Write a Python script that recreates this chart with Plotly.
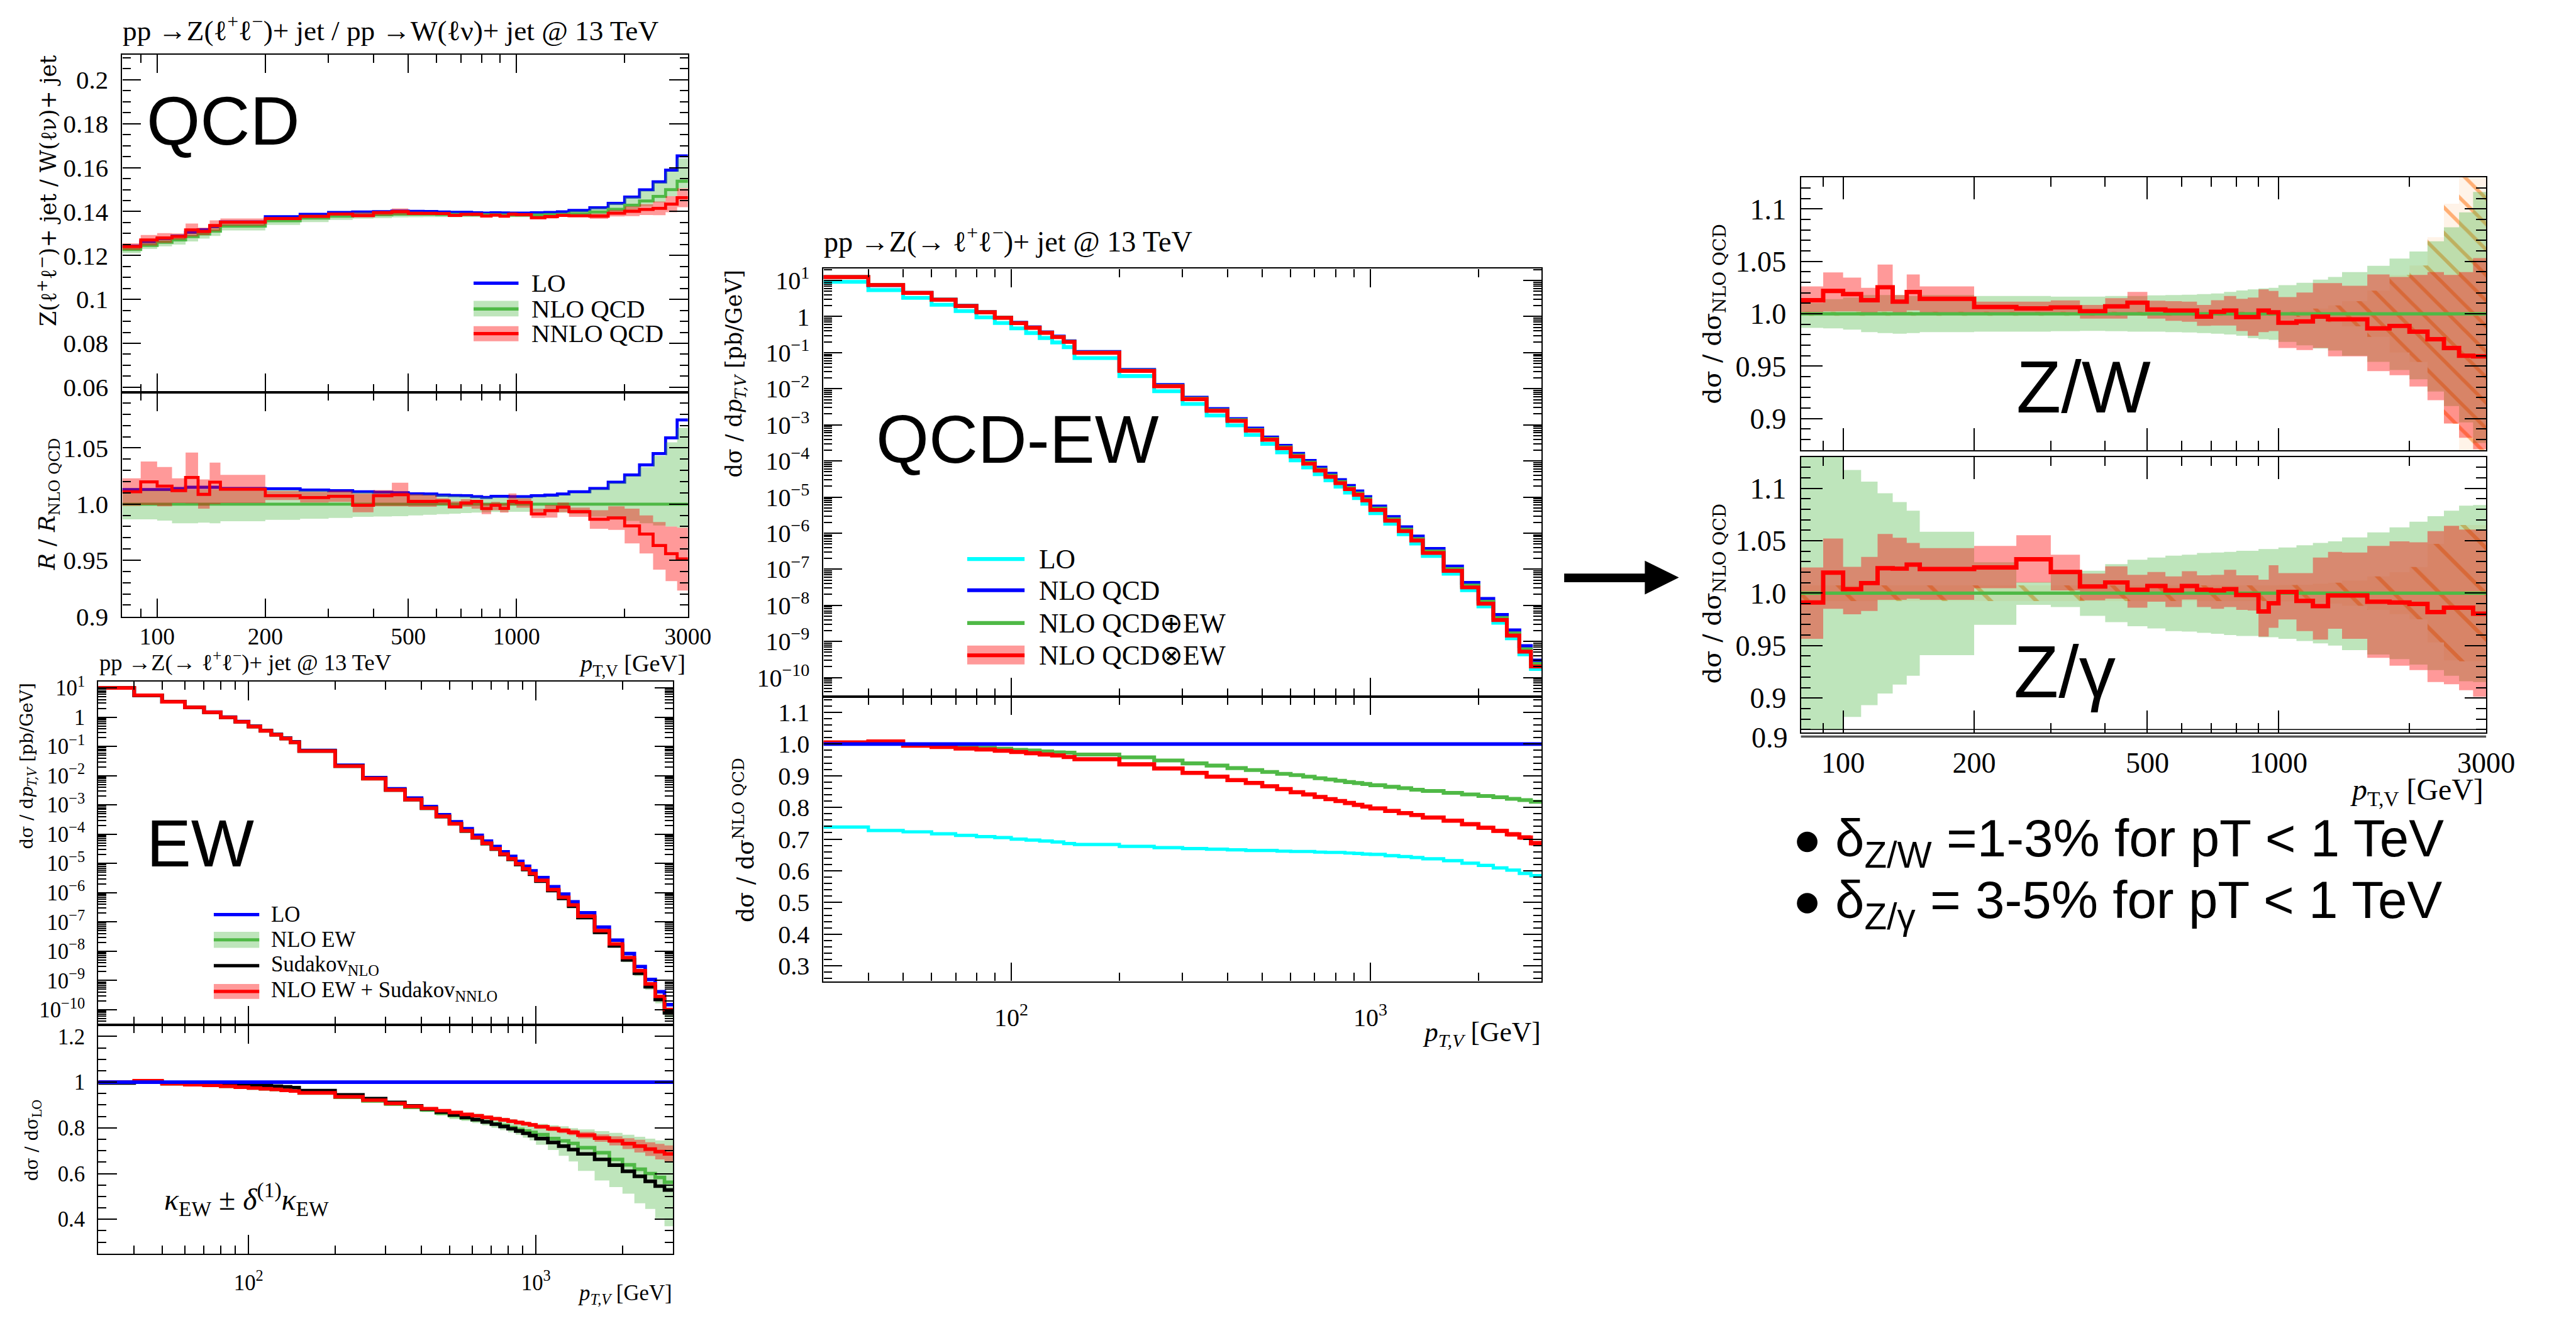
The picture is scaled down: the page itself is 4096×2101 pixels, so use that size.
import math
import plotly.graph_objects as go

# ------------------------------------------------------------------ canvas
REF_W, REF_H = 4706, 2414
OUT_W, OUT_H = 4096, 2101
K = OUT_W / REF_W


def fx(x):
    return x / REF_W


def fy(y):
    return 1 - y / REF_H


def s(v):
    return v * K


SERIF = "Liberation Serif"
WIDE = "DejaVu Serif"
SANS = "Liberation Sans"

BLUE, RED, GREEN, CYAN, BLACK = "#0000ff", "#ff0000", "#4fb946", "#00ffff", "#000000"
GREEN_BAND = "rgba(70,180,60,0.35)"
RED_BAND = "rgba(255,0,0,0.40)"
HATCH_BG = "rgba(255,200,150,0.22)"
HATCH_FG = "rgba(255,105,0,1.0)"

# ------------------------------------------------------------------ binning
EDGES_ZW = [80, 90, 100, 110, 120, 130, 140, 150, 200, 250, 300, 350, 400, 450, 500,
            550, 600, 650, 700, 750, 800, 850, 900, 950, 1000, 1100, 1200, 1300, 1400,
            1600, 1800, 2000, 2200, 2400, 2600, 2800, 3000]
EDGES_Z = [30, 40, 50, 60, 70, 80, 90, 100, 110, 120, 130, 140, 150, 200, 250, 300, 350,
           400, 450, 500, 550, 600, 650, 700, 750, 800, 850, 900, 950, 1000, 1100, 1200,
           1300, 1400, 1600, 1800, 2000, 2200, 2400, 2600, 2800, 3000]

# ------------------------------------------------------------------ QCD: Z+jet / W+jet ratio
qcd_nlo = [0.1227, 0.1246, 0.1260, 0.1271, 0.1286, 0.1298, 0.1311, 0.1334, 0.1358, 0.1370,
           0.1379, 0.1383, 0.1385, 0.1388, 0.1388, 0.1388, 0.1387, 0.1386, 0.1386, 0.1385,
           0.1385, 0.1385, 0.1384, 0.1384, 0.1384, 0.1384, 0.1385, 0.1386, 0.1390, 0.1398,
           0.1410, 0.1429, 0.1448, 0.1469, 0.1500, 0.1538]
qcd_lo_r = [1.013, 1.013, 1.013, 1.014, 1.015, 1.015, 1.015, 1.014, 1.0137, 1.0126, 1.012,
            1.011, 1.0106, 1.0102, 1.0092, 1.009, 1.008, 1.0077, 1.0075, 1.0067, 1.006, 1.007,
            1.007, 1.0067, 1.0067, 1.0075, 1.008, 1.009, 1.011, 1.014, 1.0195, 1.026, 1.035,
            1.045, 1.059, 1.075]
qcd_nnlo_r = [1.011, 1.0198, 1.016, 1.012, 1.0237, 1.0087, 1.0195, 1.0133, 1.0075, 1.0058,
              1.007, 0.999, 1.0075, 1.0084, 1.0024, 1.0024, 1.0027, 0.9976, 1.001, 1.0024,
              0.996, 0.999, 0.9962, 1.0024, 1.0015, 0.9913, 0.9942, 0.9973, 0.9933, 0.9865,
              0.9877, 0.9806, 0.9734, 0.9631, 0.9558, 0.9512]
qcd_nnlo_hi = [1.023, 1.038, 1.033, 1.023, 1.046, 1.022, 1.037, 1.026, 1.0116, 1.011, 1.012,
               1.0092, 1.0125, 1.019, 1.0087, 1.008, 1.005, 1.0024, 1.0044, 1.0024, 1.0007,
               1.002, 1.0007, 1.0096, 1.005, 0.996, 0.9993, 1.0014, 0.997, 0.9945, 0.998,
               0.996, 0.99, 0.984, 0.980, 0.979]
qcd_nnlo_lo = [0.9985, 0.9993, 0.998, 1.001, 1.0007, 0.996, 1.000, 1.001, 1.0036, 1.0014,
               1.002, 0.9928, 0.998, 0.998, 0.9976, 0.9976, 0.9993, 0.9962, 0.9976, 0.996,
               0.991, 0.9945, 0.9925, 0.999, 0.9968, 0.9877, 0.988, 0.9928, 0.9887, 0.978,
               0.977, 0.965, 0.956, 0.9417, 0.9314, 0.923]
qcd_nlo_hi = [1.012, 1.012, 1.012, 1.0125, 1.013, 1.013, 1.013, 1.013, 1.0125, 1.012, 1.011,
              1.0105, 1.01, 1.0095, 1.009, 1.0085, 1.008, 1.0075, 1.007, 1.0065, 1.006, 1.006,
              1.006, 1.006, 1.006, 1.0065, 1.007, 1.008, 1.01, 1.0135, 1.019, 1.025, 1.033,
              1.043, 1.055, 1.068]
qcd_nlo_lo = [0.9865, 0.9865, 0.9853, 0.983, 0.983, 0.9835, 0.983, 0.9848, 0.986, 0.987,
              0.9877, 0.9887, 0.989, 0.9893, 0.990, 0.9905, 0.991, 0.9915, 0.992, 0.9925,
              0.9928, 0.993, 0.993, 0.9932, 0.9932, 0.993, 0.9927, 0.9925, 0.9912, 0.989,
              0.987, 0.985, 0.983, 0.981, 0.980, 0.979]

# ------------------------------------------------------------------ EW: Z+jet spectrum
ew_lo = [10.0, 5.6, 3.4, 2.19, 1.49, 1.0, 0.71, 0.49, 0.352, 0.258, 0.193, 0.144, 0.073,
         0.0227, 0.0086, 0.00358, 0.00171, 0.000883, 0.000465, 0.000264, 0.000153, 9.1e-5,
         5.8e-5, 3.8e-5, 2.5e-5, 1.74e-5, 1.18e-5, 8.0e-6, 5.6e-6, 3.3e-6, 1.6e-6, 8.9e-7,
         4.9e-7, 2.06e-7, 6.7e-8, 2.4e-8, 8.3e-9, 3.0e-9, 1.08e-9, 4.1e-10, 1.49e-10]
ew_nnlo_sud_r = [1.0, 1.006, 0.993, 0.989, 0.986, 0.982, 0.978, 0.974, 0.971, 0.968, 0.964,
                 0.961, 0.953, 0.936, 0.921, 0.907, 0.894, 0.884, 0.875, 0.867, 0.859, 0.853,
                 0.846, 0.84, 0.835, 0.829, 0.823, 0.818, 0.813, 0.805, 0.796, 0.788, 0.78,
                 0.768, 0.755, 0.743, 0.731, 0.72, 0.707, 0.696, 0.686]
ew_nnlo_sud_err = [0.004, 0.004, 0.004, 0.004, 0.004, 0.004, 0.004, 0.004, 0.004, 0.004,
                   0.004, 0.004, 0.004, 0.004, 0.004, 0.004, 0.004, 0.004, 0.004, 0.005,
                   0.005, 0.006, 0.006, 0.006, 0.007, 0.007, 0.008, 0.008, 0.008, 0.009,
                   0.01, 0.011, 0.012, 0.014, 0.016, 0.02, 0.024, 0.028, 0.03, 0.034, 0.037]
ew_sud_nlo_r = [0.996, 1.0, 0.994, 0.993, 0.991, 0.989, 0.988, 0.986, 0.984, 0.982, 0.979,
                0.976, 0.963, 0.944, 0.928, 0.911, 0.896, 0.882, 0.869, 0.857, 0.846, 0.836,
                0.826, 0.816, 0.806, 0.796, 0.786, 0.776, 0.766, 0.753, 0.736, 0.72, 0.705,
                0.686, 0.662, 0.637, 0.61, 0.588, 0.566, 0.545, 0.528]
ew_nlo_r = [0.998, 1.005, 0.993, 0.989, 0.986, 0.982, 0.978, 0.974, 0.971, 0.968, 0.964,
            0.961, 0.952, 0.934, 0.918, 0.904, 0.89, 0.879, 0.865, 0.853, 0.843, 0.835, 0.826,
            0.818, 0.81, 0.801, 0.793, 0.786, 0.78, 0.77, 0.753, 0.743, 0.732, 0.713, 0.691,
            0.662, 0.638, 0.619, 0.6, 0.583, 0.562]
ew_nlo_hi = [1.002, 1.009, 0.997, 0.993, 0.99, 0.986, 0.982, 0.978, 0.975, 0.972, 0.968,
             0.965, 0.957, 0.94, 0.925, 0.912, 0.898, 0.884, 0.876, 0.869, 0.865, 0.861,
             0.854, 0.849, 0.844, 0.838, 0.832, 0.826, 0.821, 0.817, 0.811, 0.807, 0.799,
             0.793, 0.786, 0.778, 0.77, 0.761, 0.753, 0.745, 0.753]
ew_nlo_lo = [0.994, 1.001, 0.989, 0.985, 0.982, 0.978, 0.974, 0.97, 0.967, 0.964, 0.96,
             0.957, 0.947, 0.928, 0.911, 0.896, 0.882, 0.869, 0.853, 0.838, 0.83, 0.821,
             0.811, 0.8, 0.79, 0.78, 0.77, 0.757, 0.745, 0.726, 0.703, 0.678, 0.653, 0.612,
             0.57, 0.541, 0.512, 0.47, 0.445, 0.404, 0.37]

# ------------------------------------------------------------------ QCD-EW: Z+jet spectrum
qe_nlo = [12.4, 7.45, 4.55, 2.95, 1.99, 1.34, 0.94, 0.674, 0.502, 0.366, 0.278, 0.207, 0.104,
          0.0332, 0.0127, 0.00565, 0.00273, 0.00145, 0.000789, 0.000446, 0.000262, 0.000157,
          1.0e-4, 6.5e-5, 4.4e-5, 2.95e-5, 2.03e-5, 1.43e-5, 1.0e-5, 5.5e-6, 2.8e-6, 1.45e-6,
          8.05e-7, 3.66e-7, 1.19e-7, 4.2e-8, 1.51e-8, 5.4e-9, 2.03e-9, 7.4e-10, 2.95e-10]
qe_lo_r = [0.738, 0.727, 0.723, 0.717, 0.712, 0.708, 0.705, 0.700, 0.697, 0.694, 0.691, 0.686,
           0.683, 0.677, 0.673, 0.670, 0.668, 0.666, 0.664, 0.664, 0.662, 0.661, 0.661, 0.659,
           0.658, 0.658, 0.656, 0.655, 0.653, 0.652, 0.648, 0.645, 0.642, 0.638, 0.632, 0.624,
           0.617, 0.609, 0.602, 0.592, 0.585]
qe_add_r = [1.003, 1.005, 0.997, 0.994, 0.991, 0.988, 0.985, 0.982, 0.98, 0.977, 0.974, 0.973,
            0.967, 0.958, 0.948, 0.939, 0.932, 0.924, 0.918, 0.912, 0.906, 0.902, 0.897, 0.892,
            0.888, 0.884, 0.88, 0.877, 0.874, 0.87, 0.865, 0.861, 0.856, 0.852, 0.846, 0.841,
            0.836, 0.832, 0.827, 0.823, 0.818]
qe_mul_r = [1.005, 1.008, 0.995, 0.991, 0.986, 0.983, 0.979, 0.975, 0.971, 0.967, 0.964, 0.959,
            0.952, 0.936, 0.923, 0.909, 0.897, 0.886, 0.877, 0.867, 0.858, 0.848, 0.841, 0.833,
            0.826, 0.82, 0.814, 0.808, 0.803, 0.797, 0.789, 0.782, 0.776, 0.768, 0.758, 0.747,
            0.736, 0.726, 0.715, 0.705, 0.687]
qe_mul_err = [0.003, 0.003, 0.003, 0.003, 0.003, 0.003, 0.003, 0.003, 0.003, 0.003, 0.003,
              0.003, 0.003, 0.003, 0.003, 0.003, 0.003, 0.003, 0.003, 0.003, 0.003, 0.003,
              0.003, 0.003, 0.003, 0.004, 0.004, 0.004, 0.004, 0.005, 0.005, 0.005, 0.005,
              0.006, 0.006, 0.006, 0.007, 0.007, 0.008, 0.008, 0.008]

# ------------------------------------------------------------------ Z/W and Z/gamma ratios
zw_r = [1.0129, 1.0218, 1.0188, 1.0129, 1.0253, 1.0116, 1.0208, 1.0143, 1.0065, 1.0051,
        1.0061, 1.0025, 1.0071, 1.0106, 1.0041, 1.0031, 1.0031, 0.9973, 1.0018, 1.0031,
        0.9969, 0.9969, 1.0031, 1.0014, 0.9914, 0.9927, 0.9973, 0.9947, 0.9947, 0.9861,
        0.9884, 0.9829, 0.9757, 0.9673, 0.96, 0.9594]
zw_hi = [1.0261, 1.0394, 1.0345, 1.0247, 1.0469, 1.0178, 1.0375, 1.0261, 1.0116, 1.0116,
         1.0127, 1.0084, 1.0149, 1.0208, 1.0124, 1.012, 1.0116, 1.0084, 1.0129, 1.0169,
         1.0143, 1.0155, 1.0233, 1.0218, 1.0159, 1.0202, 1.0292, 1.0292, 1.0267, 1.0375,
         1.0351, 1.0371, 1.0398, 1.0371, 1.0398, 1.0531]
zw_lo = [1.0012, 1.0022, 1.0022, 1.0012, 1.0022, 1.0012, 1.0031, 1.0012, 1.0012, 1.0012,
         1.0012, 0.9953, 0.9953, 0.9982, 0.9953, 0.9933, 0.9924, 0.9884, 0.9888, 0.9888,
         0.9835, 0.979, 0.9825, 0.9835, 0.9673, 0.9653, 0.9673, 0.9594, 0.9594, 0.9453,
         0.9414, 0.9306, 0.9175, 0.8953, 0.8816, 0.8708]
zw_nlo_hi = [1.0104, 1.0139, 1.0155, 1.0178, 1.0178, 1.0178, 1.0169, 1.0178, 1.0169, 1.0169,
             1.0163, 1.0163, 1.0169, 1.0169, 1.0175, 1.0178, 1.0182, 1.0188, 1.0194, 1.0208,
             1.0222, 1.0233, 1.0241, 1.0247, 1.0273, 1.0296, 1.0325, 1.0351, 1.0398, 1.0457,
             1.0527, 1.0594, 1.0692, 1.0825, 1.0967, 1.1163]
zw_nlo_lo = [0.9865, 0.9861, 0.9849, 0.9825, 0.9816, 0.981, 0.9816, 0.9825, 0.9829, 0.9829,
             0.9833, 0.9837, 0.9833, 0.9829, 0.9829, 0.9825, 0.9822, 0.9816, 0.981, 0.9802,
             0.979, 0.9767, 0.9757, 0.9751, 0.9731, 0.9698, 0.9669, 0.9649, 0.96, 0.9541,
             0.9463, 0.9375, 0.9257, 0.912, 0.8963, 0.8767]
zw_hatch = [0.002, 0.002, 0.002, 0.002, 0.002, 0.002, 0.002, 0.002, 0.002, 0.002, 0.002,
            0.002, 0.002, 0.002, 0.002, 0.002, 0.002, 0.002, 0.002, 0.002, 0.002, 0.002,
            0.002, 0.002, 0.002, 0.003, 0.005, 0.008, 0.012, 0.022, 0.037, 0.046, 0.073,
            0.105, 0.14, 0.16]

zg_r = [0.9911, 1.0196, 1.0038, 1.0096, 1.0238, 1.0234, 1.0272, 1.0230, 1.0245, 1.0323,
        1.0202, 1.0064, 1.0102, 1.0032, 1.0068, 1.0026, 1.0068, 1.0032, 1.0026, 1.0038,
        0.9983, 0.9983, 0.9826, 0.9904, 1.0011, 0.9926, 0.9877, 0.9979, 0.9979, 0.9919,
        0.9911, 0.9898, 0.9819, 0.9862, 0.9862, 0.9804]
zg_hi = [1.0245, 1.0521, 1.0251, 1.0345, 1.0564, 1.0528, 1.0479, 1.043, 1.0451, 1.0553,
         1.0366, 1.0187, 1.0255, 1.0174, 1.0202, 1.016, 1.0209, 1.017, 1.0174, 1.0223, 1.017,
         1.017, 1.0128, 1.0266, 1.0191, 1.0191, 1.034, 1.0394, 1.0387, 1.0451, 1.0494,
         1.0485, 1.0591, 1.0643, 1.0606, 1.0606]
zg_lo = [0.9564, 0.9851, 0.9798, 0.983, 0.9936, 0.9936, 0.9947, 0.9936, 1.0047, 1.0102,
         1.0026, 0.9932, 0.9947, 0.9862, 0.9919, 0.9868, 0.994, 0.9868, 0.9851, 0.9868, 0.984,
         0.9834, 0.9585, 0.967, 0.9749, 0.9638, 0.9557, 0.966, 0.9564, 0.9383, 0.9309, 0.9266,
         0.9153, 0.9132, 0.9074, 0.9011]
zg_nlo_hi = [1.15, 1.15, 1.1174, 1.1064, 1.0953, 1.0868, 1.0787, 1.0585, 1.0294, 1.0106,
             1.0213, 1.0213, 1.0277, 1.0319, 1.034, 1.0357, 1.0366, 1.0383, 1.0387, 1.0394,
             1.0404, 1.0404, 1.0421, 1.0421, 1.0436, 1.0457, 1.0479, 1.0494, 1.0532, 1.0579,
             1.0628, 1.0681, 1.0734, 1.0787, 1.0834, 1.084]
zg_nlo_lo = [0.87, 0.87, 0.8819, 0.8932, 0.9043, 0.9128, 0.9213, 0.9409, 0.9698, 0.9889,
             0.9868, 0.9783, 0.9723, 0.9685, 0.9664, 0.9638, 0.9634, 0.9621, 0.9613, 0.96,
             0.9591, 0.9591, 0.9579, 0.9579, 0.9564, 0.9543, 0.9521, 0.95, 0.9457, 0.9415,
             0.9372, 0.9319, 0.9266, 0.9213, 0.916, 0.9153]
zg_hatch = [0.0075, 0.0075, 0.0075, 0.0075, 0.0075, 0.0075, 0.0075, 0.0075, 0.0075, 0.0075,
            0.0075, 0.0075, 0.0075, 0.0075, 0.0075, 0.0075, 0.0075, 0.0075, 0.0075, 0.0075,
            0.0075, 0.0075, 0.0075, 0.0075, 0.0078, 0.008, 0.009, 0.01, 0.012, 0.016, 0.02,
            0.025, 0.047, 0.064, 0.065, 0.065]

# ------------------------------------------------------------------ text
TITLE_ZW = "pp →Z(ℓ<sup>+</sup>ℓ<sup>−</sup>)+ jet / pp →W(ℓν)+ jet @ 13 TeV"
TITLE_Z = "pp →Z(→ ℓ<sup>+</sup>ℓ<sup>−</sup>)+ jet @ 13 TeV"
YT_RATIO = "Z(ℓ<sup>+</sup>ℓ<sup>−</sup>)+ jet / W(ℓν)+ jet"
YT_RR = "<i>R</i> / <i>R</i><sub>NLO QCD</sub>"
YT_SPEC = "dσ / d<i>p</i><sub><i>T,V</i></sub> [pb/GeV]"
YT_EWR = "dσ / dσ<sub>LO</sub>"
YT_QER = "dσ / dσ<sup>NLO QCD</sup>"
YT_ZR = "dσ / dσ<sub>NLO QCD</sub>"
XT_UP = "<i>p</i><sub>T,V</sub> [GeV]"
XT_IT = "<i>p</i><sub><i>T,V</i></sub> [GeV]"
LEG_QCD = ["LO", "NLO QCD", "NNLO QCD"]
LEG_EW = ["LO", "NLO EW", "Sudakov<sub>NLO</sub>", "NLO EW + Sudakov<sub>NNLO</sub>"]
LEG_QE = ["LO", "NLO QCD", "NLO QCD⊕EW", "NLO QCD⊗EW"]

X_ZW_TICKS = [100, 200, 500, 1000, 3000]
X_ZW_TEXT = ["100", "200", "500", "1000", "3000"]
X_ZW_MINOR = [90, 300, 400, 600, 700, 800, 900, 2000]
X_Z_TICKS = [100, 1000]
X_Z_TEXT = ["10<sup>2</sup>", "10<sup>3</sup>"]
X_Z_MINOR = [40, 50, 60, 70, 80, 90, 200, 300, 400, 500, 600, 700, 800, 900, 2000]

# ------------------------------------------------------------------ helpers
fig = go.Figure()
layout = {}


def ids(n):
    return ("x" if n == 1 else f"x{n}"), ("y" if n == 1 else f"y{n}")


def lin_minor(lo, hi, step, majors):
    out = []
    for i in range(math.ceil(lo / step - 1e-9), math.floor(hi / step + 1e-9) + 1):
        v = round(i * step, 6)
        if all(abs(v - m) > 1e-9 for m in majors):
            out.append(v)
    return out


def add_axes(n, xd, yd, xr, yr, ylog, xt, xl, xm, yt, yl, ym, xlabels, fsize,
             xmaj=34, xmin=15, ymaj=34, ymin=15, xstand=22, ystand=14, xfsize=None):
    xa, ya = ids(n)
    common = dict(showline=True, linecolor="black", linewidth=s(2.6), mirror="allticks",
                  ticks="inside", tickwidth=s(2.4), tickcolor="black", tickmode="array",
                  showgrid=False, zeroline=False, fixedrange=True)
    mc = dict(tickmode="array", ticks="inside", tickwidth=s(2.0), tickcolor="black",
              showgrid=False)
    layout["xaxis" if n == 1 else f"xaxis{n}"] = dict(
        common, type="log", domain=[fx(xd[0]), fx(xd[1])],
        range=[math.log10(xr[0]), math.log10(xr[1])], anchor=ya, ticklen=s(xmaj),
        tickvals=xt, ticktext=xl, showticklabels=xlabels,
        tickfont=dict(family=SERIF, size=s(xfsize or fsize), color="black"),
        ticklabelstandoff=int(round(s(xstand))),
        minor=dict(mc, tickvals=xm, ticklen=s(xmin)))
    layout["yaxis" if n == 1 else f"yaxis{n}"] = dict(
        common, type="log" if ylog else "linear", domain=[fy(yd[1]), fy(yd[0])],
        range=yr, anchor=xa, ticklen=s(ymaj), tickvals=yt, ticktext=yl,
        tickfont=dict(family=SERIF, size=s(fsize), color="black"),
        ticklabelstandoff=int(round(s(ystand))),
        minor=dict(mc, tickvals=ym, ticklen=s(ymin)))


def step(n, edges, vals, color, width):
    xa, ya = ids(n)
    fig.add_trace(go.Scatter(x=edges, y=list(vals) + [vals[-1]], mode="lines",
                             line=dict(shape="hv", color=color, width=s(width)),
                             xaxis=xa, yaxis=ya, hoverinfo="skip", showlegend=False))


def band(n, edges, lo, hi, color, pattern=None):
    xa, ya = ids(n)
    clear = dict(shape="hv", width=0, color="rgba(0,0,0,0)")
    fig.add_trace(go.Scatter(x=edges, y=list(hi) + [hi[-1]], mode="lines", line=clear,
                             xaxis=xa, yaxis=ya, hoverinfo="skip", showlegend=False))
    extra = {"fillpattern": pattern} if pattern else {}
    fig.add_trace(go.Scatter(x=edges, y=list(lo) + [lo[-1]], mode="lines", line=clear,
                             fill="tonexty", fillcolor=color, xaxis=xa, yaxis=ya,
                             hoverinfo="skip", showlegend=False, **extra))


def text(x, y, t, size, family=SERIF, xanchor="left", yanchor="middle", angle=0):
    fig.add_annotation(x=fx(x), y=fy(y), xref="paper", yref="paper", text=t,
                       showarrow=False, textangle=angle, xanchor=xanchor, yanchor=yanchor,
                       font=dict(family=family, size=s(size), color="black"), borderpad=0)


def leg_line(x0, x1, y, color, width=6):
    fig.add_shape(type="line", xref="paper", yref="paper", x0=fx(x0), x1=fx(x1),
                  y0=fy(y), y1=fy(y), line=dict(color=color, width=s(width)))


def leg_box(x0, x1, y0, y1, color):
    fig.add_shape(type="rect", xref="paper", yref="paper", x0=fx(x0), x1=fx(x1),
                  y0=fy(y1), y1=fy(y0), fillcolor=color, line=dict(width=0))


def times(a, b):
    return [u * v for u, v in zip(a, b)]


def shift(a, d, sign):
    return [u + sign * v for u, v in zip(a, d)]


ones_zw = [1.0] * len(qcd_nlo)
ones_z = [1.0] * len(qe_nlo)

LOG_Y = [10.0 ** k for k in range(-10, 2)]
LOG_Y_TEXT = ["1" if k == 0 else f"10<sup>{'−' if k < 0 else ''}{abs(k)}</sup>"
              for k in range(-10, 2)]
LOG_Y_MINOR = [m * 10.0 ** k for k in range(-11, 2) for m in range(2, 10)]

# ------------------------------------------------------------------ axes
# panel 1: Z/W ratio at QCD accuracy
add_axes(1, (226, 1271), (85, 713), (80, 3000), [0.0577, 0.2115], False,
         X_ZW_TICKS, X_ZW_TEXT, X_ZW_MINOR,
         [0.06, 0.08, 0.1, 0.12, 0.14, 0.16, 0.18, 0.2],
         ["0.06", "0.08", "0.1", "0.12", "0.14", "0.16", "0.18", "0.2"],
         lin_minor(0.0577, 0.2115, 0.005, [0.06, 0.08, 0.1, 0.12, 0.14, 0.16, 0.18, 0.2]),
         False, 47)
add_axes(2, (226, 1271), (713, 1130.7), (80, 3000), [0.8995, 1.0996], False,
         X_ZW_TICKS, X_ZW_TEXT, X_ZW_MINOR,
         [0.9, 0.95, 1.0, 1.05], ["0.9", "0.95", "1.0", "1.05"],
         lin_minor(0.9, 1.0996, 0.01, [0.9, 0.95, 1.0, 1.05]), True, 47,
         xstand=-3, xfsize=43)
# panel 2: EW corrections
add_axes(3, (181.6, 1243.6), (1251.2, 1889.3), (30, 3000), [-10.52, 1.211], True,
         X_Z_TICKS, X_Z_TEXT, X_Z_MINOR, LOG_Y, LOG_Y_TEXT, LOG_Y_MINOR, False, 40)
add_axes(4, (181.6, 1243.6), (1889.3, 2314.8), (30, 3000), [0.249, 1.25], False,
         X_Z_TICKS, X_Z_TEXT, X_Z_MINOR,
         [0.4, 0.6, 0.8, 1.0, 1.2], ["0.4", "0.6", "0.8", "1", "1.2"],
         lin_minor(0.25, 1.25, 0.05, [0.4, 0.6, 0.8, 1.0, 1.2]), True, 40, xstand=16)
# panel 3: QCD-EW combination
add_axes(5, (1521.5, 2848.4), (483.3, 1278.6), (30, 3000), [-10.526, 1.325], True,
         X_Z_TICKS, X_Z_TEXT, X_Z_MINOR, LOG_Y, LOG_Y_TEXT, LOG_Y_MINOR, False, 46)
QE_MAJ = [0.3, 0.4, 0.5, 0.6, 0.7, 0.8, 0.9, 1.0, 1.1]
add_axes(6, (1521.5, 2848.4), (1278.6, 1808), (30, 3000), [0.2516, 1.15], False,
         X_Z_TICKS, X_Z_TEXT, X_Z_MINOR,
         QE_MAJ, ["0.3", "0.4", "0.5", "0.6", "0.7", "0.8", "0.9", "1.0", "1.1"],
         lin_minor(0.26, 1.15, 0.02, QE_MAJ), True, 46, xstand=24)
# panel 4: Z/W and Z/gamma ratios
Z_MAJ = [0.9, 0.95, 1.0, 1.05, 1.1]
Z_TXT = ["0.9", "0.95", "1.0", "1.05", "1.1"]
add_axes(7, (3327.4, 4593.4), (313.7, 820.3), (80, 3000), [0.87, 1.13], False,
         X_ZW_TICKS, X_ZW_TEXT, X_ZW_MINOR, Z_MAJ, Z_TXT,
         lin_minor(0.87, 1.13, 0.01, Z_MAJ), False, 53,
         xmaj=40, xmin=17, ymaj=39, ymin=18)
add_axes(8, (3327.4, 4593.4), (833, 1345.4), (80, 3000), [0.8672, 1.13], False,
         X_ZW_TICKS, X_ZW_TEXT, X_ZW_MINOR, Z_MAJ, Z_TXT,
         lin_minor(0.87, 1.13, 0.01, Z_MAJ), True, 53,
         xmaj=40, xmin=17, ymaj=39, ymin=18, xstand=8)

# ------------------------------------------------------------------ panel 1 curves
E = EDGES_ZW
step(1, E, times(qcd_nlo, qcd_lo_r), BLUE, 5.5)
band(1, E, times(qcd_nlo, qcd_nlo_lo), times(qcd_nlo, qcd_nlo_hi), GREEN_BAND)
step(1, E, qcd_nlo, GREEN, 5.5)
band(1, E, times(qcd_nlo, qcd_nnlo_lo), times(qcd_nlo, qcd_nnlo_hi), RED_BAND)
step(1, E, times(qcd_nlo, qcd_nnlo_r), RED, 5.5)

step(2, E, qcd_lo_r, BLUE, 5.5)
band(2, E, qcd_nlo_lo, qcd_nlo_hi, GREEN_BAND)
step(2, E, ones_zw, GREEN, 5.5)
band(2, E, qcd_nnlo_lo, qcd_nnlo_hi, RED_BAND)
step(2, E, qcd_nnlo_r, RED, 5.5)

# ------------------------------------------------------------------ panel 2 curves
E = EDGES_Z
ew_red_lo = shift(ew_nnlo_sud_r, ew_nnlo_sud_err, -1)
ew_red_hi = shift(ew_nnlo_sud_r, ew_nnlo_sud_err, +1)
step(3, E, ew_lo, BLUE, 6.5)
band(3, E, times(ew_lo, ew_nlo_lo), times(ew_lo, ew_nlo_hi), GREEN_BAND)
step(3, E, times(ew_lo, ew_nlo_r), GREEN, 6.5)
step(3, E, times(ew_lo, ew_sud_nlo_r), BLACK, 6.5)
band(3, E, times(ew_lo, ew_red_lo), times(ew_lo, ew_red_hi), RED_BAND)
step(3, E, times(ew_lo, ew_nnlo_sud_r), RED, 6.5)

band(4, E, ew_nlo_lo, ew_nlo_hi, GREEN_BAND)
band(4, E, ew_red_lo, ew_red_hi, RED_BAND)
step(4, E, ew_nlo_r, GREEN, 6.5)
step(4, E, ew_sud_nlo_r, BLACK, 6.5)
step(4, E, ew_nnlo_sud_r, RED, 6.5)
step(4, E, ones_z, BLUE, 6.5)

# ------------------------------------------------------------------ panel 3 curves
qe_red_lo = shift(qe_mul_r, qe_mul_err, -1)
qe_red_hi = shift(qe_mul_r, qe_mul_err, +1)
step(5, E, times(qe_nlo, qe_lo_r), CYAN, 7)
step(5, E, qe_nlo, BLUE, 7)
step(5, E, times(qe_nlo, qe_add_r), GREEN, 7)
band(5, E, times(qe_nlo, qe_red_lo), times(qe_nlo, qe_red_hi), RED_BAND)
step(5, E, times(qe_nlo, qe_mul_r), RED, 7)

step(6, E, qe_lo_r, CYAN, 6)
step(6, E, qe_add_r, GREEN, 7)
band(6, E, qe_red_lo, qe_red_hi, RED_BAND)
step(6, E, qe_mul_r, RED, 7.5)
step(6, E, ones_z, BLUE, 6.5)

# ------------------------------------------------------------------ panel 4 curves
E = EDGES_ZW
for n, central, lo, hi, nlo_lo, nlo_hi, hatch, hsize, hsol in (
        (7, zw_r, zw_lo, zw_hi, zw_nlo_lo, zw_nlo_hi, zw_hatch, 33, 0.2),
        (8, zg_r, zg_lo, zg_hi, zg_nlo_lo, zg_nlo_hi, zg_hatch, 59, 0.12)):
    band(n, E, shift(ones_zw, hatch, -1), shift(ones_zw, hatch, +1), HATCH_BG,
         pattern=dict(shape="\\", fgcolor=HATCH_FG, bgcolor=HATCH_BG, size=s(hsize),
                      solidity=hsol, fillmode="overlay"))
    band(n, E, nlo_lo, nlo_hi, GREEN_BAND)
    band(n, E, lo, hi, RED_BAND)
    step(n, E, ones_zw, GREEN, 6)
    step(n, E, central, RED, 8)

# lower edge of the Z/gamma frame and the cut-off frame beneath it
fig.add_shape(type="line", xref="x8 domain", yref="y8", x0=0, x1=1, y0=0.87, y1=0.87,
              line=dict(color="black", width=s(1.6)))
fig.add_shape(type="line", xref="paper", yref="paper", x0=fx(3327.4), x1=fx(4593.4),
              y0=fy(1353), y1=fy(1353), line=dict(color="#555555", width=s(4)))
text(3305, 1356, "0.9", 53, xanchor="right")

# ------------------------------------------------------------------ titles and axis labels
text(226, 37, TITLE_ZW, 52)
text(182, 1212, TITLE_Z, 42)
text(1521, 429, TITLE_Z, 53)

text(87, 85, YT_RATIO, 40, family=WIDE, xanchor="center", yanchor="top", angle=-90)
text(91, 921, YT_RR, 40, family=WIDE, xanchor="center", angle=-90)
text(52, 1253, YT_SPEC, 32, family=WIDE, xanchor="center", yanchor="top", angle=-90)
text(62, 2103, YT_EWR, 32, family=WIDE, xanchor="center", angle=-90)
text(1359, 485, YT_SPEC, 40, family=WIDE, xanchor="center", yanchor="top", angle=-90)
text(1374, 1545, YT_QER, 42, family=WIDE, xanchor="center", angle=-90)
text(3166, 567, YT_ZR, 46, family=WIDE, xanchor="center", angle=-90)
text(3166, 1087, YT_ZR, 46, family=WIDE, xanchor="center", angle=-90)

text(1268, 1220, XT_UP, 44, xanchor="right")
text(1243, 2390, XT_IT, 40, xanchor="right")
text(2848, 1906, XT_IT, 50, xanchor="right")
text(4590, 1455, XT_UP, 55, xanchor="right")

# ------------------------------------------------------------------ big panel labels
text(270, 208, "QCD", 126, family=SANS)
text(270, 1552, "EW", 122, family=SANS)
text(1618, 800, "QCD-EW", 124, family=SANS)
text(3724, 703, "Z/W", 134, family=SANS)
text(3719, 1233, "Z/γ", 134, family=SANS)
text(302, 2213, "<i>κ</i><sub>EW</sub> ± <i>δ</i><sup>(1)</sup><i>κ</i><sub>EW</sub>", 55)

# ------------------------------------------------------------------ legends
leg_line(875, 958, 510, BLUE)
leg_box(875, 958, 543, 572, GREEN_BAND)
leg_line(875, 958, 558, GREEN)
leg_box(875, 958, 590, 618, RED_BAND)
leg_line(875, 958, 604, RED)
for lab, y in zip(LEG_QCD, (510, 558, 604)):
    text(981, y, lab, 47)

leg_line(395, 479, 1684, BLUE)
leg_box(395, 479, 1716, 1746, GREEN_BAND)
leg_line(395, 479, 1731, GREEN)
leg_line(395, 479, 1779, BLACK)
leg_box(395, 479, 1813, 1841, RED_BAND)
leg_line(395, 479, 1827, RED)
for lab, y in zip(LEG_EW, (1684, 1731, 1779, 1827)):
    text(500, y, lab, 40)

leg_line(1787, 1893, 1023, CYAN, 7)
leg_line(1787, 1893, 1081, BLUE, 7)
leg_line(1787, 1893, 1142, GREEN, 7)
leg_box(1787, 1893, 1184, 1219, RED_BAND)
leg_line(1787, 1893, 1202, RED, 7)
for lab, y in zip(LEG_QE, (1023, 1081, 1142, 1202)):
    text(1919, y, lab, 50)

# ------------------------------------------------------------------ arrow
fig.add_shape(type="rect", xref="paper", yref="paper", x0=fx(2890), x1=fx(3042),
              y0=fy(1066), y1=fy(1050), fillcolor="black", line=dict(width=0))
fig.add_shape(type="path", xref="paper", yref="paper",
              path=f"M {fx(3039)},{fy(1026)} L {fx(3102)},{fy(1057.5)} "
                   f"L {fx(3039)},{fy(1089)} Z",
              fillcolor="black", line=dict(width=0))

# ------------------------------------------------------------------ summary bullets
for y, t in ((1549, "δ<sub>Z/W</sub> =1-3% for pT &lt; 1 TeV"),
             (1663, "δ<sub>Z/γ</sub> = 3-5% for pT &lt; 1 TeV")):
    fig.add_shape(type="circle", xref="paper", yref="paper", x0=fx(3320), x1=fx(3358),
                  y0=fy(y + 19), y1=fy(y - 19), fillcolor="black", line=dict(width=0))
    text(3390, y, t, 96, family=SANS)

fig.update_layout(width=OUT_W, height=OUT_H, margin=dict(l=0, r=0, t=0, b=0),
                  paper_bgcolor="white", plot_bgcolor="white", showlegend=False,
                  hovermode=False, font=dict(family=SERIF, color="black"), **layout)
fig.write_html("out.html", config={"displayModeBar": False},
               post_script="document.body.style.margin='0';")
